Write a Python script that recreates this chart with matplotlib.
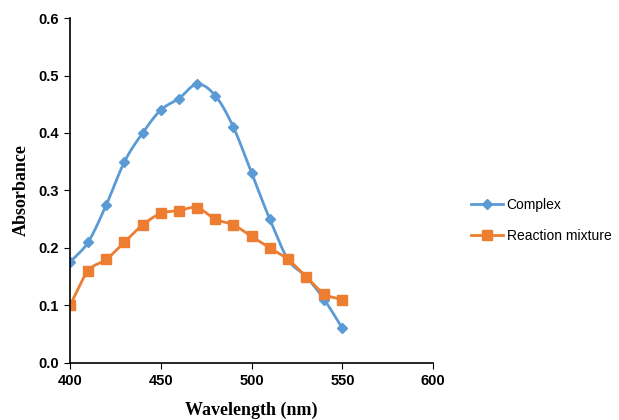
import numpy as np
import matplotlib.pyplot as plt

wavelength = [400, 410, 420, 430, 440, 450, 460, 470, 480, 490, 500, 510, 520, 530, 540, 550]
complex_abs = [0.175, 0.21, 0.275, 0.35, 0.40, 0.44, 0.46, 0.485, 0.465, 0.41, 0.33, 0.25, 0.18, 0.15, 0.11, 0.06]
mixture_abs = [0.10, 0.16, 0.18, 0.21, 0.24, 0.26, 0.265, 0.27, 0.25, 0.24, 0.22, 0.20, 0.18, 0.15, 0.12, 0.11]


def smooth(x, y, n=20):
    # catmull-rom curve through the points, like excel's smoothed line
    x = np.asarray(x, float)
    y = np.asarray(y, float)
    px = np.concatenate([[2 * x[0] - x[1]], x, [2 * x[-1] - x[-2]]])
    py = np.concatenate([[2 * y[0] - y[1]], y, [2 * y[-1] - y[-2]]])
    t = np.linspace(0, 1, n)
    xs, ys = [], []
    for i in range(1, len(px) - 2):
        for p, out in ((px, xs), (py, ys)):
            p0, p1, p2, p3 = p[i - 1], p[i], p[i + 1], p[i + 2]
            out.extend(0.5 * (2 * p1 + (-p0 + p2) * t + (2 * p0 - 5 * p1 + 4 * p2 - p3) * t ** 2
                              + (-p0 + 3 * p1 - 3 * p2 + p3) * t ** 3))
    return xs, ys


blue = "#5B9BD5"
orange = "#ED7D31"

fig = plt.figure(figsize=(6.19, 4.2), dpi=100)
ax = fig.add_axes([0.113, 0.136, 0.587, 0.821])

sx, sy = smooth(wavelength, complex_abs)
ax.plot(sx, sy, color=blue, lw=2)
ax.plot(wavelength, complex_abs, ls="none", marker="D", ms=5.5, color=blue)
sx, sy = smooth(wavelength, mixture_abs)
ax.plot(sx, sy, color=orange, lw=2)
ax.plot(wavelength, mixture_abs, ls="none", marker="s", ms=7, color=orange)

# legend handles
h1, = ax.plot([], [], color=blue, lw=2, marker="D", ms=5.5, label="Complex")
h2, = ax.plot([], [], color=orange, lw=2, marker="s", ms=7, label="Reaction mixture")
fig.legend(handles=[h1, h2], loc="center left", bbox_to_anchor=(0.74, 0.475),
           frameon=False, prop={"family": "Liberation Sans", "size": 10},
           handlelength=2.3, labelspacing=1.2, handletextpad=0.3)

ax.set_xlim(400, 600)
ax.set_ylim(0, 0.6)
ax.set_xticks(np.arange(400, 601, 50))
ax.set_yticks(np.arange(0, 0.61, 0.1))
ax.set_yticklabels([f"{v:.1f}" for v in np.arange(0, 0.61, 0.1)])
for s in ["top", "right"]:
    ax.spines[s].set_visible(False)
ax.spines["left"].set_linewidth(1.2)
ax.spines["bottom"].set_linewidth(1.2)
ax.tick_params(direction="out", length=4, labelsize=10.5, pad=4)
for lab in ax.get_xticklabels() + ax.get_yticklabels():
    lab.set_fontweight("bold")
    lab.set_family("Liberation Sans")

ax.set_xlabel("Wavelength (nm)", fontsize=13, fontweight="bold", family="Liberation Serif", labelpad=10)
ax.set_ylabel("Absorbance", fontsize=13, fontweight="bold", family="Liberation Serif", labelpad=6)

plt.savefig("out.png", dpi=100)
